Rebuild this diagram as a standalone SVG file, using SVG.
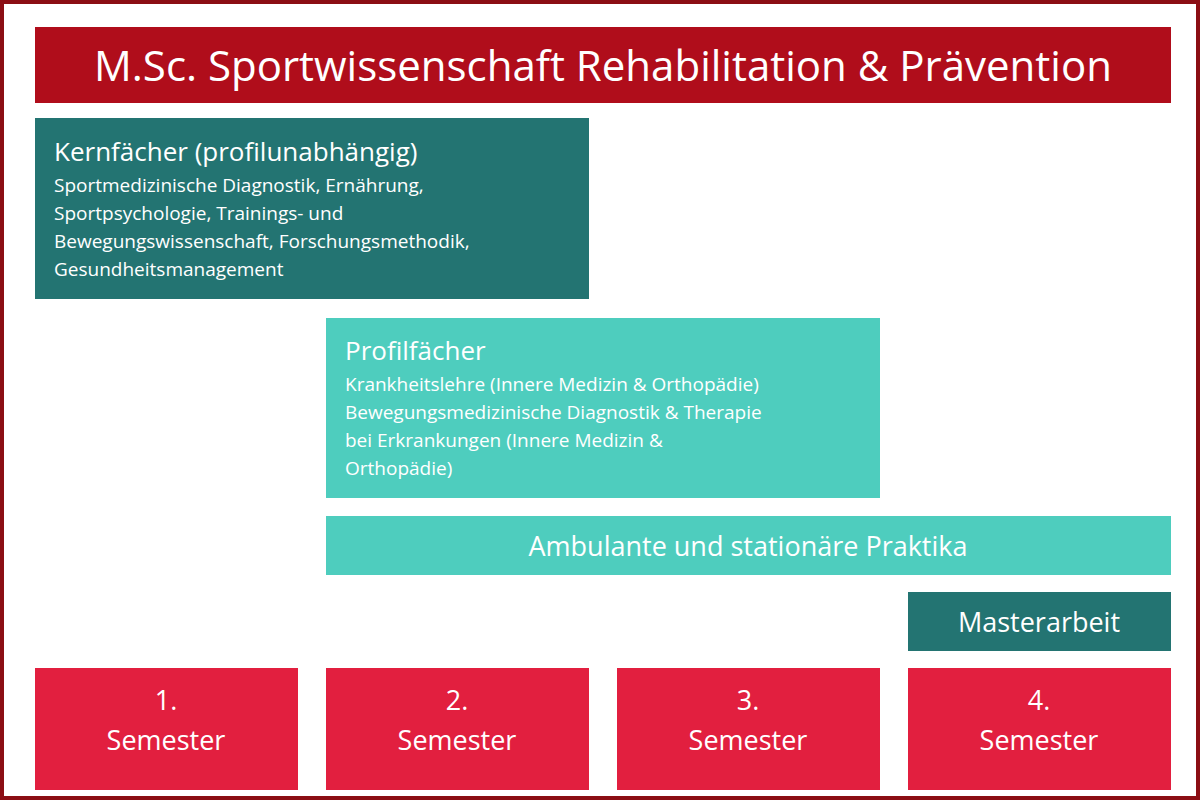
<svg xmlns="http://www.w3.org/2000/svg" width="1200" height="800" viewBox="0 0 1200 800">
<style>
text{font-family:"Open Sans","Noto Sans",sans-serif;fill:#fff}
.dk{fill:#237472}.lt{fill:#4ECDBE}.sem{fill:#E21F3F}
.h{font-size:26px}.s{font-size:19px}.big{font-size:27px}
</style>
<rect x="0" y="0" width="1200" height="800" fill="#fff"/>
<rect x="2" y="2" width="1196" height="796" fill="none" stroke="#8B0E14" stroke-width="4"/>
<g id="title"><rect x="35" y="27" width="1136" height="76" fill="#B00D1B"/>
<text x="603" y="81" text-anchor="middle" font-size="42">M.Sc. Sportwissenschaft Rehabilitation &amp; Prävention</text></g>
<g id="kern"><rect class="dk" x="35" y="118" width="554" height="181"/>
<text class="h" x="54" y="161">Kernfächer (profilunabhängig)</text>
<text class="s" x="54" y="192">Sportmedizinische Diagnostik, Ernährung,</text>
<text class="s" x="54" y="220">Sportpsychologie, Trainings- und</text>
<text class="s" x="54" y="248">Bewegungswissenschaft, Forschungsmethodik,</text>
<text class="s" x="54" y="276">Gesundheitsmanagement</text></g>
<g id="profil"><rect class="lt" x="326" y="318" width="554" height="180"/>
<text class="h" x="345" y="360">Profilfächer</text>
<text class="s" x="345" y="391">Krankheitslehre (Innere Medizin &amp; Orthopädie)</text>
<text class="s" x="345" y="419">Bewegungsmedizinische Diagnostik &amp; Therapie</text>
<text class="s" x="345" y="447">bei Erkrankungen (Innere Medizin &amp;</text>
<text class="s" x="345" y="475">Orthopädie)</text></g>
<g id="praktika"><rect class="lt" x="326" y="516" width="845" height="59"/>
<text class="big" x="748" y="556" text-anchor="middle">Ambulante und stationäre Praktika</text></g>
<g id="master"><rect class="dk" x="908" y="592" width="263" height="59"/>
<text class="big" x="1039" y="632" text-anchor="middle">Masterarbeit</text></g>
<g id="sem1"><rect class="sem" x="35" y="668" width="263" height="122"/>
<text class="big" x="166" y="710" text-anchor="middle">1.</text><text class="big" x="166" y="750" text-anchor="middle">Semester</text></g>
<g id="sem2"><rect class="sem" x="326" y="668" width="263" height="122"/>
<text class="big" x="457" y="710" text-anchor="middle">2.</text><text class="big" x="457" y="750" text-anchor="middle">Semester</text></g>
<g id="sem3"><rect class="sem" x="617" y="668" width="263" height="122"/>
<text class="big" x="748" y="710" text-anchor="middle">3.</text><text class="big" x="748" y="750" text-anchor="middle">Semester</text></g>
<g id="sem4"><rect class="sem" x="908" y="668" width="263" height="122"/>
<text class="big" x="1039" y="710" text-anchor="middle">4.</text><text class="big" x="1039" y="750" text-anchor="middle">Semester</text></g>
<g id="connectors"/>
</svg>
